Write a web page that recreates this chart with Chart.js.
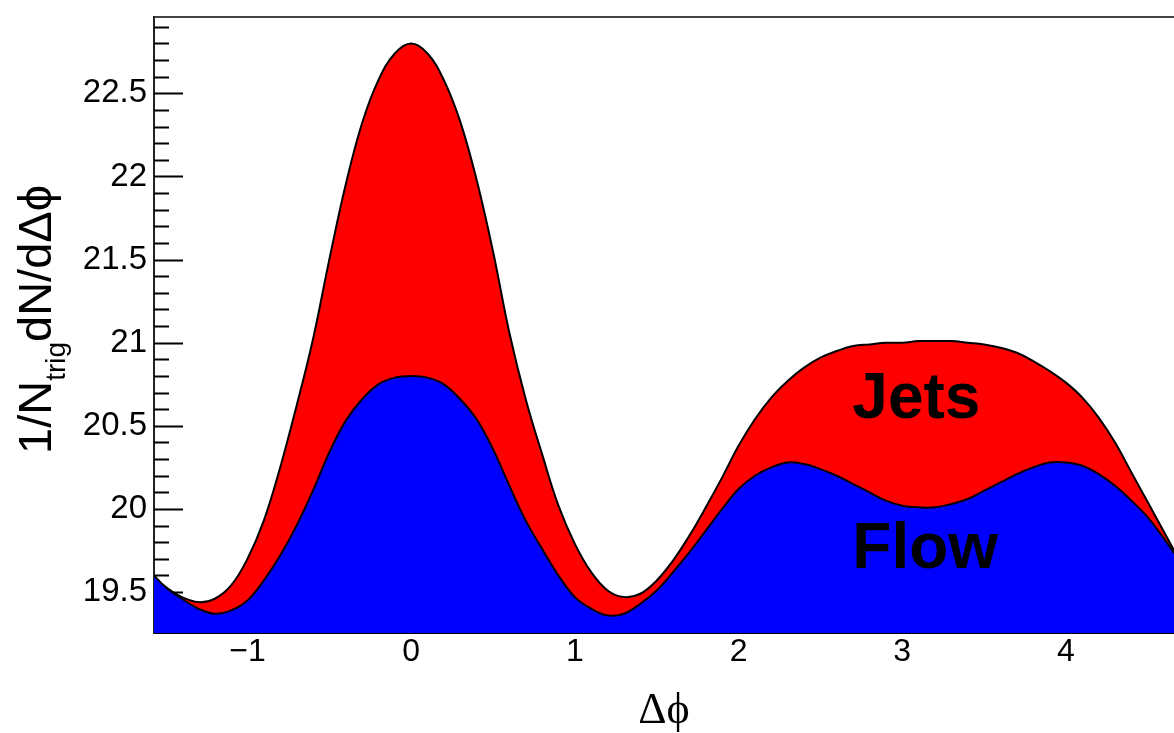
<!DOCTYPE html>
<html>
<head>
<meta charset="utf-8">
<script src="https://cdn.jsdelivr.net/npm/chart.js@4/dist/chart.umd.min.js"></script>
<style>
  html, body { margin: 0; padding: 0; background: #fff; }
  canvas { display: block; }
</style>
</head>
<body>
<canvas id="c" width="1174" height="733"></canvas>
<script>
// delta phi positions
const phi = [-1.5708, -1.5, -1.4, -1.3, -1.2, -1.1, -1.0, -0.9, -0.8, -0.7, -0.6, -0.5, -0.4, -0.3, -0.2, -0.1,
  0, 0.1, 0.2, 0.3, 0.4, 0.5, 0.6, 0.7, 0.8, 0.9, 1.0, 1.1, 1.2, 1.3, 1.4, 1.5, 1.6, 1.7, 1.8, 1.9,
  2.0, 2.1, 2.2, 2.3, 2.4, 2.5, 2.6, 2.7, 2.8, 2.9, 3.0, 3.1, 3.2, 3.3, 3.4, 3.5, 3.6, 3.7, 3.8, 3.9,
  4.0, 4.1, 4.2, 4.3, 4.4, 4.5, 4.6, 4.7];

// flow background
const flowYield = [19.60, 19.53, 19.46, 19.40, 19.37, 19.39, 19.45, 19.57, 19.72, 19.90, 20.11, 20.34, 20.53, 20.66, 20.75, 20.79,
  20.80, 20.79, 20.75, 20.66, 20.54, 20.36, 20.14, 19.93, 19.76, 19.60, 19.47, 19.40, 19.36, 19.37, 19.43, 19.51, 19.62, 19.74, 19.87, 20.00,
  20.12, 20.20, 20.25, 20.28, 20.27, 20.24, 20.20, 20.15, 20.10, 20.05, 20.02, 20.01, 20.01, 20.03, 20.06, 20.11, 20.16, 20.21, 20.25, 20.28,
  20.28, 20.26, 20.21, 20.14, 20.05, 19.95, 19.82, 19.68];

// flow + jets
const totalYield = [19.59, 19.53, 19.47, 19.44, 19.46, 19.54, 19.70, 19.93, 20.25, 20.62, 21.02, 21.50, 21.95, 22.32, 22.58, 22.74,
  22.80, 22.74, 22.58, 22.33, 21.98, 21.55, 21.06, 20.66, 20.33, 20.02, 19.79, 19.62, 19.51, 19.47, 19.49, 19.57, 19.69, 19.84, 20.01, 20.19,
  20.38, 20.54, 20.67, 20.77, 20.85, 20.91, 20.95, 20.98, 20.99, 21.00, 21.00, 21.01, 21.01, 21.01, 21.00, 20.99, 20.97, 20.94, 20.89, 20.83,
  20.76, 20.67, 20.55, 20.40, 20.22, 20.04, 19.86, 19.68];

const xTicks = [-1, 0, 1, 2, 3, 4];
const yTicks = [19.5, 20, 20.5, 21, 21.5, 22, 22.5];

const sans = "'Liberation Sans', Arial, Helvetica, sans-serif";
const serif = "'Liberation Serif', 'DejaVu Serif', 'Times New Roman', serif";

function toPoints(ys) {
  return phi.map((x, i) => ({ x: x, y: ys[i] }));
}

// small inward ticks on the y axis, every 0.1 (long ones at the labelled values)
const yAxisTicks = {
  id: "yAxisTicks",
  beforeDatasetsDraw(chart) {
    const ctx = chart.ctx;
    const y = chart.scales.y;
    const left = chart.chartArea.left;
    ctx.save();
    ctx.strokeStyle = "#000";
    ctx.lineWidth = 2;
    ctx.beginPath();
    for (let k = 193; k <= 229; k++) {
      const v = k / 10;
      if (v < y.min || v > y.max) continue;
      const py = Math.round(y.getPixelForValue(v)) + 0.5;
      const len = k % 5 === 0 ? 29 : 15;
      ctx.moveTo(left, py);
      ctx.lineTo(left + len, py);
    }
    ctx.stroke();
    ctx.restore();
  },
};

// "Jets" / "Flow" labels
const areaLabels = {
  id: "areaLabels",
  afterDatasetsDraw(chart) {
    const ctx = chart.ctx;
    const x = chart.scales.x;
    const y = chart.scales.y;
    ctx.save();
    ctx.fillStyle = "#000";
    ctx.font = "bold 64px " + sans;
    ctx.textAlign = "left";
    ctx.textBaseline = "alphabetic";
    ctx.fillText("Jets", x.getPixelForValue(2.695), y.getPixelForValue(20.55));
    ctx.fillText("Flow", x.getPixelForValue(2.695), y.getPixelForValue(19.645));
    ctx.restore();
  },
};

// y axis title with subscript
const yTitle = {
  id: "yTitle",
  afterDraw(chart) {
    const ctx = chart.ctx;
    ctx.save();
    ctx.translate(51, 454);
    ctx.rotate(-Math.PI / 2);
    ctx.fillStyle = "#000";
    ctx.textBaseline = "alphabetic";
    ctx.textAlign = "left";
    ctx.font = "47px " + sans;
    ctx.fillText("1/N", 0, 0);
    let w = ctx.measureText("1/N").width;
    ctx.font = "28px " + sans;
    ctx.fillText("trig", w, 14);
    w += ctx.measureText("trig").width;
    ctx.font = "47px " + sans;
    ctx.fillText("dN/dΔϕ", w, 0);
    ctx.restore();
  },
};

new Chart(document.getElementById("c"), {
  type: "line",
  data: {
    datasets: [
      {
        label: "Jets",
        data: toPoints(totalYield),
        borderColor: "#000",
        borderWidth: 2,
        backgroundColor: "#ff0000",
        fill: "start",
        pointRadius: 0,
        tension: 0.4,
        order: 2,
      },
      {
        label: "Flow",
        data: toPoints(flowYield),
        borderColor: "#000",
        borderWidth: 2,
        backgroundColor: "#0000ff",
        fill: "start",
        pointRadius: 0,
        tension: 0.4,
        order: 1,
      },
    ],
  },
  options: {
    responsive: false,
    animation: false,
    layout: { padding: 0 },
    plugins: {
      legend: { display: false },
      tooltip: { enabled: false },
    },
    scales: {
      x: {
        type: "linear",
        position: "bottom",
        min: -1.5708,
        max: 4.66,
        afterBuildTicks: (s) => { s.ticks = xTicks.map((v) => ({ value: v })); },
        afterFit: (s) => { s.height = 100; },
        grid: { display: false, drawTicks: false },
        border: { display: true, color: "#000", width: 2 },
        ticks: {
          padding: 10,
          color: "#000",
          font: { family: sans, size: 32, lineHeight: 0.6 },
          maxRotation: 0,
          callback: (v) => (v < 0 ? "\u2212" + Math.abs(v) : String(v)),
        },
        title: {
          display: true,
          text: "Δϕ",
          color: "#000",
          font: { family: serif, size: 44, lineHeight: 1 },
          padding: { top: 0, bottom: 0 },
        },
      },
      x2: {
        type: "linear",
        position: "top",
        min: -1.5708,
        max: 4.66,
        afterFit: (s) => { s.height = 13; },
        grid: { display: false, drawTicks: false },
        border: { display: true, color: "#444", width: 2 },
        ticks: { display: false },
      },
      y: {
        type: "linear",
        position: "left",
        min: 19.254,
        max: 22.96,
        afterBuildTicks: (s) => { s.ticks = yTicks.map((v) => ({ value: v })); },
        afterFit: (s) => { s.width = 154; },
        grid: { display: false, drawTicks: false },
        border: { display: true, color: "#222", width: 2 },
        ticks: {
          padding: 7,
          color: "#000",
          font: { family: sans, size: 33, lineHeight: 0.6 },
          callback: (v) => String(v),
        },
      },
    },
  },
  plugins: [yAxisTicks, areaLabels, yTitle],
});
</script>
</body>
</html>
